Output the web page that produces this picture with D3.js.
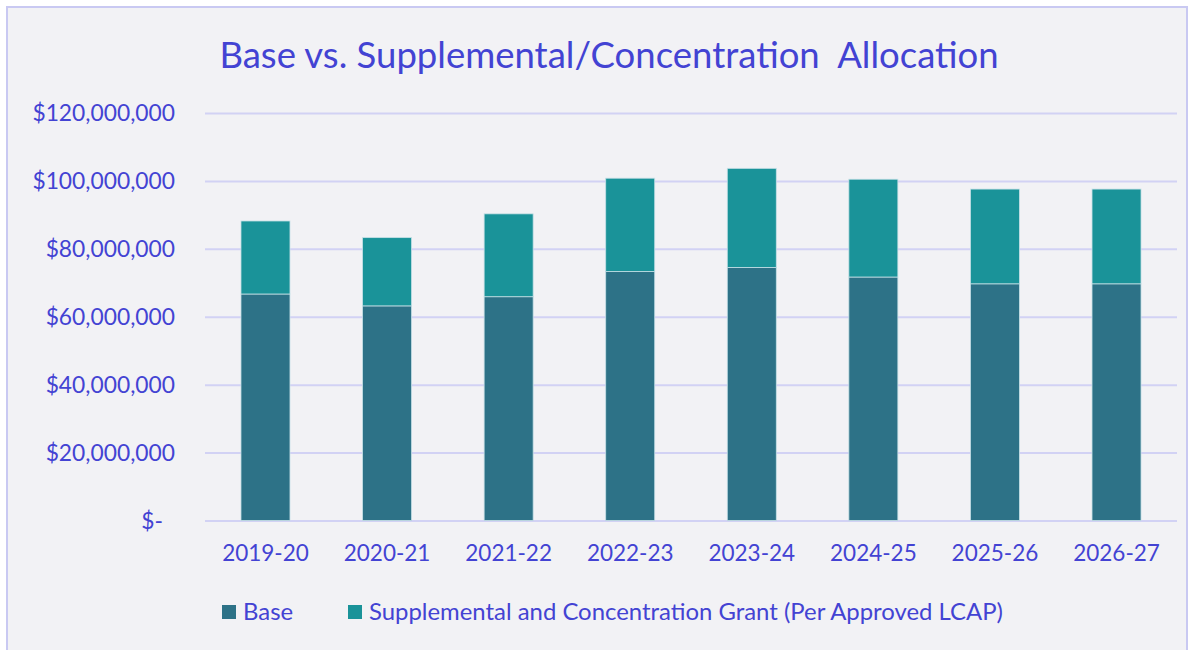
<!DOCTYPE html>
<html>
<head>
<meta charset="utf-8">
<script src="https://cdn.jsdelivr.net/npm/d3@7"></script>
<style>
  html, body { margin: 0; padding: 0; background: #fff; }
  svg text { font-family: Lato, "Open Sans", sans-serif; fill: #4343d3; }
</style>
</head>
<body>
<div id="chart"></div>
<script>
// values in dollars
var years = ["2019-20", "2020-21", "2021-22", "2022-23", "2023-24", "2024-25", "2025-26", "2026-27"];
var baseVals = [66700000, 63200000, 65900000, 73300000, 74500000, 71700000, 69700000, 69700000];
var suppVals = [21500000, 20100000, 24400000, 27500000, 29200000, 28800000, 27900000, 27900000];
var yTicks = [0, 20000000, 40000000, 60000000, 80000000, 100000000, 120000000];
var seriesNames = ["Base", "Supplemental and Concentration Grant (Per Approved LCAP)"];
var colors = ["#2d7287", "#1a9399"];

var W = 1193, H = 650;
var margin = {top: 113, right: 16, bottom: 129.5, left: 205};
var width = W - margin.left - margin.right,
    height = H - margin.top - margin.bottom;

var svg = d3.select("#chart").append("svg")
    .attr("width", W)
    .attr("height", H);

// panel
svg.append("rect")
    .attr("x", 7).attr("y", 7)
    .attr("width", 1180).attr("height", 650)
    .attr("fill", "#f2f2f5")
    .attr("stroke", "#c9c9f2")
    .attr("stroke-width", 2);

svg.append("text")
    .attr("x", 609).attr("y", 68)
    .attr("text-anchor", "middle")
    .style("font-size", "36.5px")
    .style("white-space", "pre")
    .text("Base vs. Supplemental/Concentration  Allocation");

var g = svg.append("g")
    .attr("transform", "translate(" + margin.left + "," + margin.top + ")");

var x = d3.scaleBand()
    .domain(years)
    .range([0, width])
    .paddingInner(0.597)
    .paddingOuter(0.296);

var y = d3.scaleLinear()
    .domain([0, 120000000])
    .range([height, 0]);

// grid
g.append("g")
    .call(d3.axisLeft(y).tickValues(yTicks).tickSize(-width).tickFormat(""))
    .call(function(a) {
        a.select(".domain").remove();
        a.selectAll("line").attr("stroke", "#d2d2f4").attr("stroke-width", 2);
    });

var fmt = d3.format(",");
g.append("g")
    .call(d3.axisLeft(y).tickValues(yTicks).tickSize(0).tickPadding(30)
        .tickFormat(function(d) { return d === 0 ? "$-" : "$" + fmt(d); }))
    .call(function(a) {
        a.select(".domain").remove();
        a.selectAll("text")
            .attr("dy", "0.35em")
            .style("font-size", "22.8px")
            .attr("dx", function(d) { return d === 0 ? -12 : 0; });
    });

var stackData = years.map(function(yr, i) {
    return {year: yr, base: baseVals[i], supp: suppVals[i]};
});
var stack = d3.stack().keys(["base", "supp"]);
var series = stack(stackData);

g.selectAll(".series")
    .data(series)
    .enter().append("g")
    .attr("class", "series")
    .attr("fill", function(d, i) { return colors[i]; })
    .selectAll("rect")
    .data(function(d) { return d; })
    .enter().append("rect")
    .attr("x", function(d) { return x(d.data.year); })
    .attr("y", function(d) { return y(d[1]); })
    .attr("width", x.bandwidth())
    .attr("height", function(d) { return y(d[0]) - y(d[1]); })
    .attr("stroke", "#c6e0e6")
    .attr("stroke-width", 0.8);

g.append("g")
    .attr("transform", "translate(0," + height + ")")
    .call(d3.axisBottom(x).tickSize(0).tickPadding(25))
    .call(function(a) {
        a.select(".domain").remove();
        a.selectAll("text").style("font-size", "22.5px");
    });

// legend
var legendX = [222, 348];
var legend = svg.selectAll(".legend")
    .data(seriesNames)
    .enter().append("g")
    .attr("class", "legend")
    .attr("transform", function(d, i) { return "translate(" + legendX[i] + ",605)"; });

legend.append("rect")
    .attr("width", 14).attr("height", 14)
    .attr("fill", function(d, i) { return colors[i]; });

legend.append("text")
    .attr("x", 21).attr("y", 7)
    .attr("dy", "0.35em")
    .style("font-size", "23.9px")
    .text(function(d) { return d; });
</script>
</body>
</html>
